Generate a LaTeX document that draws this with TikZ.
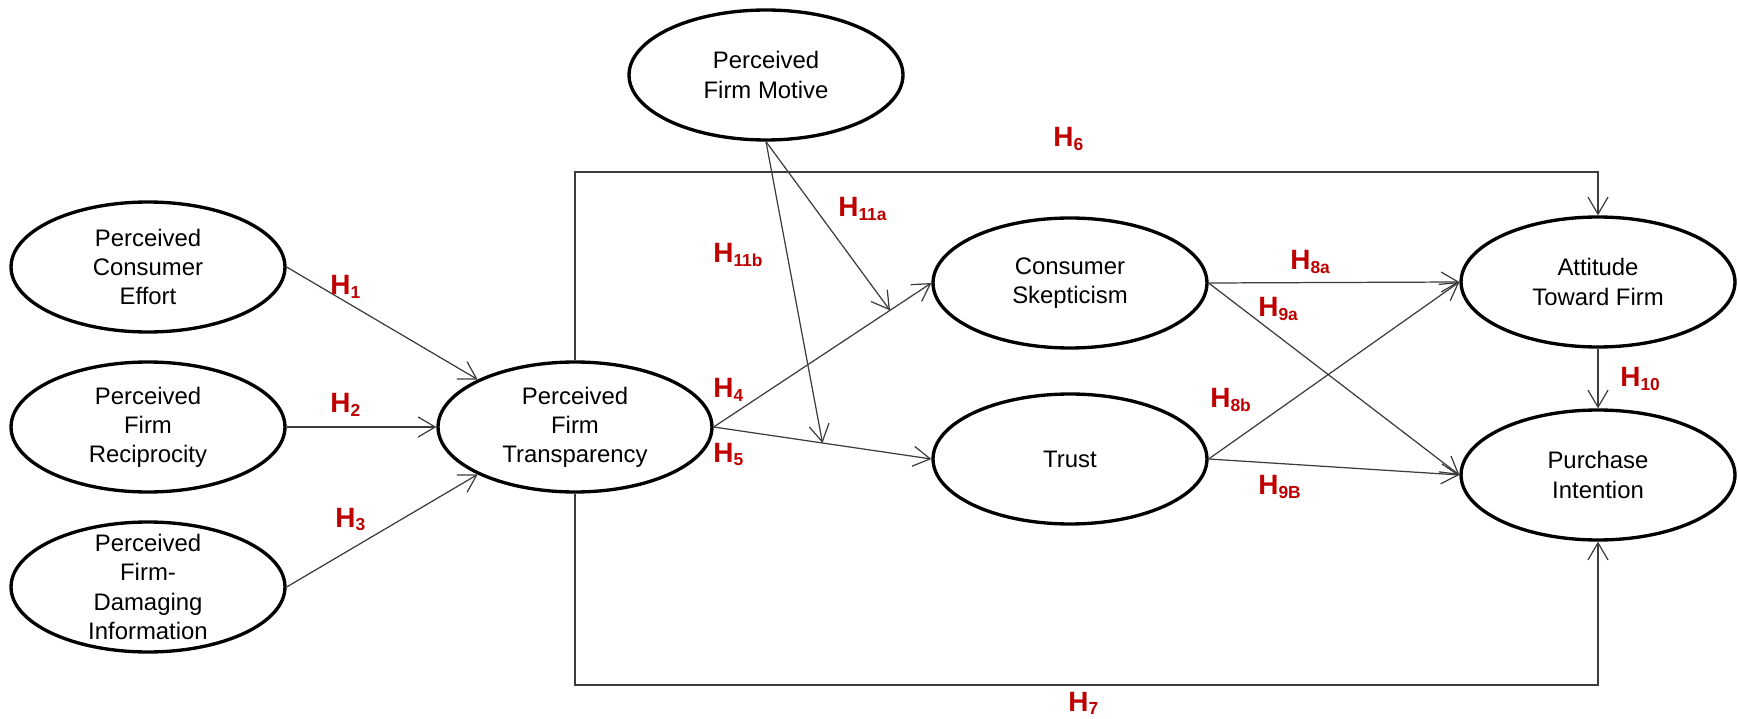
\documentclass[tikz,border=0pt]{standalone}
\usepackage{fontspec}
\setmainfont{Liberation Sans}
\usetikzlibrary{shapes.geometric,arrows.meta,calc}
\definecolor{hred}{RGB}{190,0,0}
\definecolor{lineg}{RGB}{60,60,60}
\newcommand{\hyplab}[1]{H\raisebox{-2pt}{\fontsize{9.9pt}{10pt}\selectfont #1}}
\begin{document}
\begin{tikzpicture}[x=0.02cm,y=-0.02cm,
  lv/.style={ellipse,draw=black,line width=1.9pt,minimum width=5.48cm,minimum height=2.6cm,inner sep=0pt},
  lt/.style={align=center,font=\fontsize{13.6pt}{16.6pt}\selectfont,inner sep=0pt},
  hl/.style={font=\fontsize{15.9pt}{16pt}\selectfont\bfseries,text=hred,inner sep=0pt,anchor=base west},
  con/.style={draw=lineg,line width=0.7pt,-{Straight Barb[length=0.34cm,width=0.4cm,line width=0.7pt]}},
  pl/.style={draw=lineg,line width=0.7pt}]
\useasboundingbox (0,0) rectangle (1738,719);
% latent variables
\node[lv] (ce) at (148,267) {};
\node[lt] (ceT) at (ce) {Perceived\\Consumer\\Effort};
\node[lv] (rp) at (148,427) {};
\node[lt] (rpT) at (rp) {Perceived\\Firm\\Reciprocity};
\node[lv] (di) at (148,587) {};
\node[lt] (diT) at (di) {Perceived\\Firm-\\Damaging\\Information};
\node[lv] (tp) at (575,427) {};
\node[lt] (tpT) at (tp) {Perceived\\Firm\\Transparency};
\node[lv] (fm) at (766,75) {};
\node[lt] (fmT) at (fm) {Perceived\\Firm Motive};
\node[lv] (cs) at (1070,283) {};
\node[lt] (csT) at (cs) {Consumer\\Skepticism};
\node[lv] (tr) at (1070,459) {};
\node[lt] (trT) at (tr) {Trust};
\node[lv] (at) at (1598,282) {};
\node[lt] (atT) at (at) {Attitude\\Toward Firm};
\node[lv] (pi) at (1598,475) {};
\node[lt] (piT) at (pi) {Purchase\\Intention};
% helper coordinates
\coordinate (top) at (0,172);
\coordinate (bot) at (0,685);
\coordinate (m4) at ($(tp.east)!0.81!(cs.west)$);
\coordinate (m5) at ($(tp.east)!0.5!(tr.west)$);
% connectors
\draw[con] (ce.east) -- (tp.154);
\draw[con] (rp.east) -- (tp.west);
\draw[con] (di.east) -- (tp.206);
\draw[con] (tp.east) -- (cs.west);
\draw[con] (tp.east) -- (tr.west);
\draw[con] (fm.south) -- (m4);
\draw[con] (fm.south) -- (m5);
\draw[con] (tp.north) -- (tp.north |- top) -| (at.north);
\draw[con] (tp.south) -- (tp.south |- bot) -| (pi.south);
\draw[con] (cs.east) -- (at.west);
\draw[con] (cs.east) -- (pi.west);
\draw[con] (tr.east) -- (at.west);
\draw[con] (tr.east) -- (pi.west);
\draw[con] (at.south) -- (pi.north);
% labels
\node[hl] (h1) at (330,295) {\hyplab{1}};
\node[hl] (h2) at (330,413) {\hyplab{2}};
\node[hl] (h3) at (335,527) {\hyplab{3}};
\node[hl] (h4) at (713,398) {\hyplab{4}};
\node[hl] (h5) at (713,462) {\hyplab{5}};
\node[hl] (h6) at (1053,147) {\hyplab{6}};
\node[hl] (h7) at (1068,711) {\hyplab{7}};
\node[hl] (h8a) at (1290,270) {\hyplab{8a}};
\node[hl] (h9a) at (1258,317) {\hyplab{9a}};
\node[hl] (h8b) at (1210,408) {\hyplab{8b}};
\node[hl] (h9b) at (1258,495) {\hyplab{9B}};
\node[hl] (h10) at (1620,387) {\hyplab{10}};
\node[hl] (h11a) at (838,217) {\hyplab{11a}};
\node[hl] (h11b) at (713,263) {\hyplab{11b}};
\end{tikzpicture}
\end{document}
